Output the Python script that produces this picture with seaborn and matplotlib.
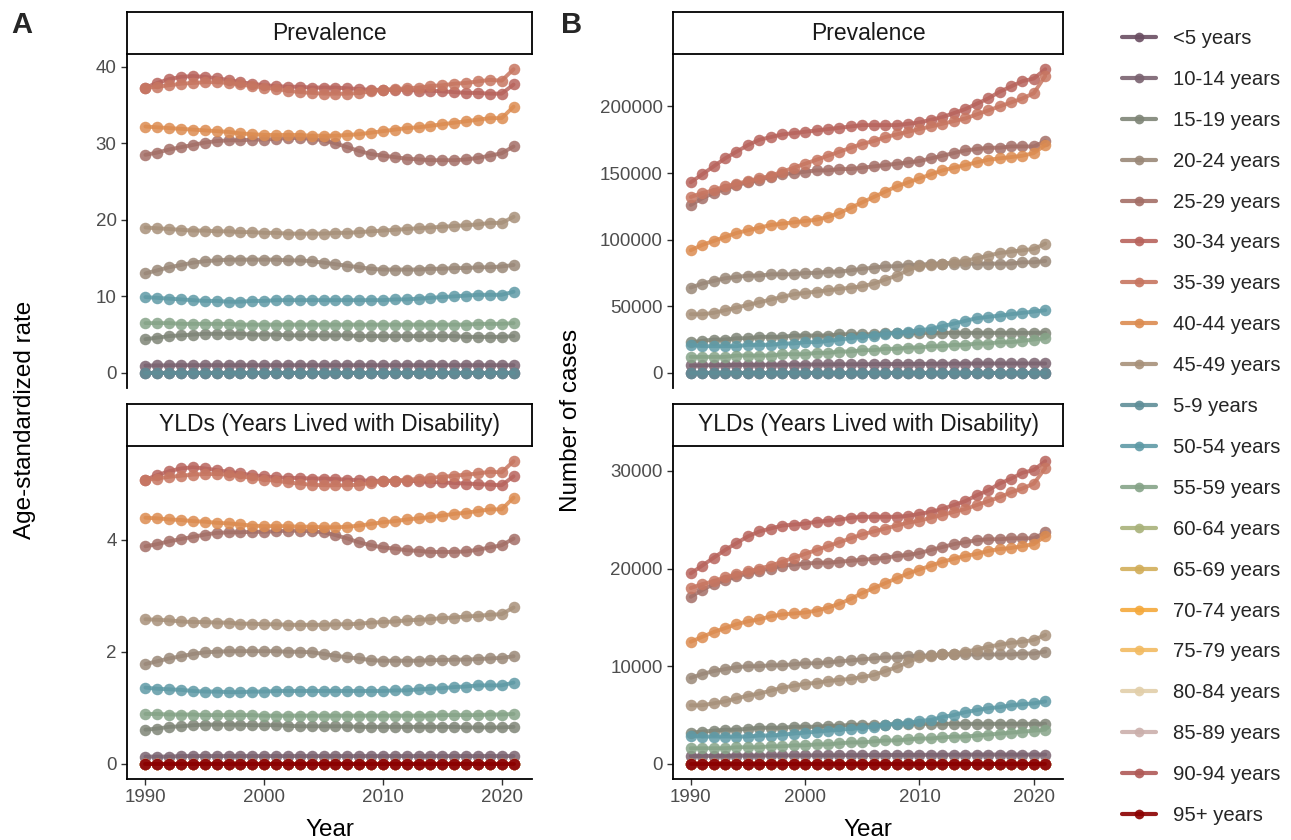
import numpy as np
import pandas as pd
import matplotlib
matplotlib.use('Agg')
import matplotlib.pyplot as plt
from matplotlib.lines import Line2D
import seaborn as sns

years = list(range(1990, 2022))

age_groups = ['<5 years', '10-14 years', '15-19 years', '20-24 years', '25-29 years',
              '30-34 years', '35-39 years', '40-44 years', '45-49 years', '5-9 years',
              '50-54 years', '55-59 years', '60-64 years', '65-69 years', '70-74 years',
              '75-79 years', '80-84 years', '85-89 years', '90-94 years', '95+ years']
age_colors = ['#6b4f63', '#7a6370', '#7f8577', '#9a8878', '#a46f67',
              '#b8645d', '#c77661', '#dc8c51', '#a8917a', '#5f8e98',
              '#5f9aa6', '#86a488', '#a9b27a', '#d2ae5a', '#f4a93c',
              '#f2bb62', '#e2cfaa', '#cbb0ac', '#b05a57', '#8b0000']

# ---- A / Prevalence (age-standardized rate) ----
prev_rate_10_14 = [0.95, 0.97, 0.98, 1.0, 1.0, 1.0, 1.0, 1.0, 1.0, 1.0, 1.0, 1.0, 1.0, 1.0, 1.0, 1.0,
                   1.0, 1.0, 1.0, 1.0, 1.0, 1.0, 1.0, 1.0, 1.0, 1.0, 1.0, 1.0, 1.0, 1.0, 1.0, 1.0]
prev_rate_15_19 = [4.4, 4.6, 4.8, 4.9, 5.0, 5.1, 5.1, 5.1, 5.1, 5.0, 5.0, 5.0, 4.9, 4.9, 4.9, 4.9,
                   4.9, 4.9, 4.8, 4.8, 4.8, 4.8, 4.8, 4.8, 4.8, 4.8, 4.8, 4.7, 4.7, 4.7, 4.7, 4.8]
prev_rate_20_24 = [13.0, 13.4, 13.8, 14.1, 14.4, 14.6, 14.7, 14.8, 14.8, 14.8, 14.8, 14.8, 14.7, 14.7, 14.6, 14.4,
                   14.2, 14.0, 13.8, 13.6, 13.5, 13.5, 13.5, 13.5, 13.6, 13.6, 13.7, 13.7, 13.8, 13.8, 13.9, 14.1]
prev_rate_25_29 = [28.5, 28.8, 29.2, 29.5, 29.8, 30.1, 30.3, 30.4, 30.4, 30.5, 30.5, 30.6, 30.7, 30.7, 30.6, 30.4,
                   30.0, 29.5, 29.0, 28.6, 28.4, 28.2, 28.0, 27.9, 27.8, 27.8, 27.8, 27.9, 28.1, 28.4, 28.7, 29.6]
prev_rate_30_34 = [37.3, 37.9, 38.4, 38.7, 38.8, 38.7, 38.5, 38.3, 38.0, 37.8, 37.6, 37.5, 37.4, 37.4, 37.3, 37.3,
                   37.3, 37.2, 37.1, 37.0, 37.0, 37.0, 37.0, 36.9, 36.9, 36.8, 36.7, 36.6, 36.6, 36.5, 36.5, 37.7]
prev_rate_35_39 = [37.3, 37.4, 37.6, 37.8, 37.9, 38.0, 38.0, 37.9, 37.7, 37.5, 37.3, 37.1, 36.9, 36.7, 36.6, 36.5,
                   36.5, 36.5, 36.6, 36.8, 37.0, 37.1, 37.2, 37.3, 37.5, 37.6, 37.8, 37.9, 38.1, 38.3, 38.2, 39.7]
prev_rate_40_44 = [32.2, 32.1, 32.0, 31.9, 31.8, 31.7, 31.6, 31.5, 31.3, 31.2, 31.1, 31.1, 31.1, 31.1, 31.0, 31.0,
                   31.0, 31.1, 31.2, 31.4, 31.6, 31.8, 32.0, 32.1, 32.3, 32.5, 32.7, 32.9, 33.1, 33.3, 33.3, 34.8]
prev_rate_45_49 = [19.0, 18.9, 18.8, 18.7, 18.6, 18.6, 18.5, 18.5, 18.4, 18.4, 18.3, 18.3, 18.2, 18.2, 18.2, 18.2,
                   18.3, 18.3, 18.4, 18.5, 18.6, 18.7, 18.8, 18.9, 19.0, 19.1, 19.2, 19.3, 19.4, 19.6, 19.6, 20.4]
prev_rate_50_54 = [9.9, 9.8, 9.7, 9.6, 9.5, 9.4, 9.4, 9.3, 9.3, 9.4, 9.4, 9.5, 9.5, 9.5, 9.5, 9.5,
                   9.5, 9.5, 9.5, 9.5, 9.5, 9.6, 9.6, 9.7, 9.8, 9.9, 10.0, 10.1, 10.2, 10.2, 10.2, 10.6]
prev_rate_55_59 = [6.5, 6.5, 6.5, 6.4, 6.4, 6.4, 6.4, 6.4, 6.3, 6.3, 6.3, 6.3, 6.3, 6.3, 6.3, 6.3,
                   6.3, 6.3, 6.3, 6.3, 6.3, 6.3, 6.3, 6.3, 6.3, 6.3, 6.3, 6.3, 6.4, 6.4, 6.4, 6.5]
prev_rate_low = [0.0] * 32  # <5 and 5-9 years

# ---- A / YLDs (age-standardized rate) ----
yld_rate_10_14 = [0.13, 0.13, 0.13, 0.14, 0.14, 0.14, 0.14, 0.14, 0.14, 0.14, 0.14, 0.14, 0.14, 0.14, 0.14, 0.14,
                  0.14, 0.14, 0.14, 0.14, 0.14, 0.14, 0.14, 0.14, 0.14, 0.14, 0.14, 0.14, 0.14, 0.14, 0.14, 0.14]
yld_rate_15_19 = [0.61, 0.63, 0.66, 0.67, 0.69, 0.70, 0.70, 0.70, 0.70, 0.69, 0.69, 0.69, 0.68, 0.67, 0.67, 0.67,
                  0.67, 0.67, 0.66, 0.66, 0.66, 0.66, 0.66, 0.66, 0.66, 0.66, 0.66, 0.65, 0.65, 0.65, 0.65, 0.66]
yld_rate_20_24 = [1.78, 1.83, 1.88, 1.92, 1.96, 1.99, 2.00, 2.01, 2.01, 2.01, 2.01, 2.01, 2.00, 2.00, 1.99, 1.96,
                  1.93, 1.90, 1.88, 1.85, 1.84, 1.84, 1.84, 1.84, 1.85, 1.85, 1.86, 1.86, 1.87, 1.88, 1.89, 1.92]
yld_rate_25_29 = [3.88, 3.92, 3.97, 4.01, 4.05, 4.09, 4.12, 4.13, 4.13, 4.14, 4.14, 4.15, 4.16, 4.16, 4.15, 4.13,
                  4.08, 4.02, 3.95, 3.90, 3.86, 3.84, 3.81, 3.80, 3.78, 3.78, 3.78, 3.79, 3.82, 3.86, 3.90, 4.02]
yld_rate_30_34 = [5.07, 5.15, 5.22, 5.27, 5.29, 5.27, 5.24, 5.21, 5.18, 5.15, 5.13, 5.11, 5.10, 5.10, 5.09, 5.09,
                  5.08, 5.07, 5.06, 5.05, 5.05, 5.05, 5.05, 5.04, 5.03, 5.02, 5.01, 5.00, 4.99, 4.98, 4.97, 5.13]
yld_rate_35_39 = [5.07, 5.09, 5.12, 5.14, 5.16, 5.17, 5.17, 5.16, 5.13, 5.10, 5.07, 5.05, 5.02, 5.00, 4.98, 4.97,
                  4.97, 4.97, 4.98, 5.01, 5.04, 5.05, 5.07, 5.08, 5.10, 5.12, 5.14, 5.16, 5.18, 5.21, 5.20, 5.40]
yld_rate_40_44 = [4.39, 4.38, 4.36, 4.35, 4.33, 4.32, 4.30, 4.29, 4.27, 4.25, 4.24, 4.24, 4.24, 4.23, 4.23, 4.22,
                  4.22, 4.23, 4.25, 4.28, 4.31, 4.33, 4.36, 4.38, 4.40, 4.43, 4.46, 4.48, 4.51, 4.54, 4.54, 4.75]
yld_rate_45_49 = [2.58, 2.57, 2.56, 2.54, 2.53, 2.53, 2.52, 2.52, 2.50, 2.50, 2.49, 2.49, 2.48, 2.48, 2.48, 2.48,
                  2.49, 2.49, 2.50, 2.52, 2.53, 2.54, 2.56, 2.57, 2.58, 2.60, 2.61, 2.63, 2.64, 2.66, 2.67, 2.79]
yld_rate_50_54 = [1.36, 1.34, 1.33, 1.32, 1.30, 1.29, 1.29, 1.28, 1.28, 1.29, 1.29, 1.30, 1.30, 1.30, 1.30, 1.30,
                  1.30, 1.30, 1.30, 1.30, 1.30, 1.31, 1.31, 1.33, 1.34, 1.35, 1.37, 1.38, 1.40, 1.40, 1.40, 1.45]
yld_rate_55_59 = [0.89, 0.89, 0.88, 0.88, 0.88, 0.87, 0.87, 0.87, 0.87, 0.87, 0.86, 0.86, 0.86, 0.86, 0.86, 0.86,
                  0.86, 0.86, 0.86, 0.86, 0.86, 0.86, 0.86, 0.86, 0.86, 0.87, 0.87, 0.87, 0.87, 0.88, 0.88, 0.89]
yld_rate_low = [0.0] * 32  # <5, 5-9 and 60+ years

# ---- B / Prevalence (number of cases, thousands) ----
prev_num_10_14 = [5.5, 5.6, 5.7, 5.8, 5.9, 6.0, 6.0, 6.1, 6.1, 6.2, 6.2, 6.3, 6.3, 6.4, 6.4, 6.5,
                  6.5, 6.6, 6.6, 6.7, 6.7, 6.8, 6.8, 6.9, 6.9, 7.0, 7.0, 7.0, 7.0, 7.0, 7.0, 7.0]
prev_num_15_19 = [23, 24, 25, 25, 26, 26, 27, 27, 27, 28, 28, 28, 28, 29, 29, 29,
                  29, 30, 30, 30, 30, 30, 30, 30, 30, 30, 30, 30, 30, 30, 30, 30]
prev_num_20_24 = [64, 67, 69, 71, 72, 73, 73, 74, 74, 74, 75, 75, 76, 76, 77, 78,
                  79, 80, 80, 81, 81, 82, 82, 82, 82, 82, 82, 82, 82, 83, 83, 84]
prev_num_25_29 = [126, 131, 135, 138, 141, 143, 145, 147, 149, 150, 151, 152, 152, 153, 153, 154,
                  155, 156, 157, 158, 159, 161, 163, 165, 167, 168, 169, 169, 170, 170, 170, 174]
prev_num_30_34 = [143, 149, 155, 161, 166, 171, 175, 177, 179, 180, 181, 182, 183, 184, 185, 186,
                  186, 186, 186, 187, 188, 190, 192, 195, 198, 202, 206, 211, 215, 219, 221, 228]
prev_num_35_39 = [132, 135, 137, 140, 142, 144, 146, 148, 151, 154, 157, 160, 163, 166, 169, 172,
                  174, 177, 179, 181, 183, 185, 187, 189, 191, 194, 197, 200, 203, 206, 210, 223]
prev_num_40_44 = [92, 96, 99, 102, 105, 107, 109, 111, 112, 113, 114, 115, 117, 120, 124, 128,
                  132, 136, 140, 143, 146, 149, 152, 154, 156, 158, 160, 161, 162, 163, 165, 171]
prev_num_45_49 = [44, 44, 45, 47, 49, 51, 53, 55, 57, 59, 60, 61, 62, 63, 64, 65,
                  67, 70, 73, 77, 80, 81, 82, 83, 84, 86, 88, 90, 91, 92, 93, 97]
prev_num_50_54 = [21, 20, 20, 20, 20, 21, 21, 21, 22, 22, 23, 23, 24, 25, 26, 27,
                  28, 29, 30, 31, 32, 33, 35, 37, 39, 41, 42, 43, 44, 45, 46, 47]
prev_num_55_59 = [12, 12, 12, 12, 13, 13, 13, 13, 14, 14, 14, 15, 15, 16, 16, 17,
                  17, 18, 18, 19, 19, 20, 20, 21, 21, 22, 22, 23, 23, 24, 25, 26]
prev_num_low = [0.0] * 32

# ---- B / YLDs (number, thousands) ----
yld_num_10_14 = [0.80, 0.81, 0.82, 0.83, 0.84, 0.85, 0.85, 0.86, 0.86, 0.87, 0.87, 0.88, 0.88, 0.89, 0.89, 0.90,
                 0.90, 0.91, 0.91, 0.92, 0.92, 0.93, 0.93, 0.94, 0.94, 0.95, 0.95, 0.95, 0.95, 0.95, 0.95, 0.95]
yld_num_15_19 = [3.2, 3.3, 3.4, 3.5, 3.5, 3.6, 3.7, 3.7, 3.7, 3.8, 3.8, 3.8, 3.9, 3.9, 4.0, 4.0,
                 4.0, 4.0, 4.1, 4.1, 4.1, 4.1, 4.1, 4.1, 4.1, 4.1, 4.1, 4.1, 4.1, 4.1, 4.1, 4.1]
yld_num_20_24 = [8.8, 9.2, 9.5, 9.7, 9.9, 10.0, 10.0, 10.1, 10.1, 10.2, 10.3, 10.3, 10.4, 10.5, 10.6, 10.7,
                 10.8, 10.9, 10.9, 11.0, 11.1, 11.1, 11.2, 11.2, 11.2, 11.2, 11.2, 11.2, 11.2, 11.3, 11.3, 11.5]
yld_num_25_29 = [17.1, 17.8, 18.4, 18.8, 19.2, 19.5, 19.8, 20.0, 20.3, 20.4, 20.5, 20.6, 20.6, 20.7, 20.8, 20.9,
                 21.0, 21.1, 21.3, 21.4, 21.6, 21.9, 22.2, 22.5, 22.7, 22.9, 23.0, 23.0, 23.1, 23.1, 23.1, 23.7]
yld_num_30_34 = [19.5, 20.3, 21.1, 21.9, 22.6, 23.3, 23.8, 24.1, 24.4, 24.5, 24.6, 24.8, 24.9, 25.0, 25.2, 25.3,
                 25.3, 25.3, 25.3, 25.4, 25.6, 25.8, 26.1, 26.5, 26.9, 27.5, 28.0, 28.7, 29.2, 29.8, 30.1, 31.0]
yld_num_35_39 = [18.0, 18.4, 18.7, 19.1, 19.4, 19.7, 20.0, 20.3, 20.7, 21.1, 21.5, 21.9, 22.3, 22.7, 23.1, 23.5,
                 23.8, 24.1, 24.4, 24.7, 24.9, 25.2, 25.5, 25.8, 26.1, 26.5, 26.9, 27.3, 27.8, 28.2, 28.7, 30.3]
yld_num_40_44 = [12.5, 13.0, 13.5, 13.9, 14.3, 14.6, 14.8, 15.1, 15.3, 15.4, 15.5, 15.7, 16.0, 16.4, 16.9, 17.5,
                 18.0, 18.5, 19.0, 19.5, 19.9, 20.3, 20.7, 21.0, 21.3, 21.5, 21.8, 22.0, 22.1, 22.3, 22.5, 23.3]
yld_num_45_49 = [6.0, 6.0, 6.2, 6.4, 6.7, 7.0, 7.2, 7.5, 7.8, 8.0, 8.2, 8.3, 8.5, 8.6, 8.7, 8.9,
                 9.1, 9.5, 9.9, 10.4, 10.9, 11.0, 11.2, 11.3, 11.5, 11.7, 12.0, 12.2, 12.4, 12.5, 12.7, 13.2]
yld_num_50_54 = [2.9, 2.8, 2.8, 2.8, 2.8, 2.8, 2.9, 2.9, 3.0, 3.1, 3.2, 3.3, 3.4, 3.5, 3.6, 3.7,
                 3.8, 4.0, 4.1, 4.2, 4.4, 4.5, 4.8, 5.0, 5.3, 5.5, 5.7, 5.8, 6.0, 6.1, 6.2, 6.4]
yld_num_55_59 = [1.6, 1.6, 1.6, 1.6, 1.7, 1.7, 1.7, 1.8, 1.8, 1.9, 1.9, 2.0, 2.0, 2.1, 2.2, 2.2,
                 2.3, 2.4, 2.4, 2.5, 2.6, 2.6, 2.7, 2.8, 2.8, 2.9, 3.0, 3.1, 3.2, 3.3, 3.4, 3.5]
yld_num_low = [0.0] * 32

older = ['60-64 years', '65-69 years', '70-74 years', '75-79 years', '80-84 years',
         '85-89 years', '90-94 years', '95+ years']


def panel(s10, s15, s20, s25, s30, s35, s40, s45, s50, s55, low, with_older, scale=1.0):
    series = {'<5 years': low, '10-14 years': s10, '15-19 years': s15, '20-24 years': s20,
              '25-29 years': s25, '30-34 years': s30, '35-39 years': s35, '40-44 years': s40,
              '45-49 years': s45, '5-9 years': low, '50-54 years': s50, '55-59 years': s55}
    if with_older:
        for g in older:
            series[g] = low
    rows = []
    for g, vals in series.items():
        for y, v in zip(years, vals):
            rows.append({'year': y, 'age': g, 'value': v * scale})
    return pd.DataFrame(rows)


panels = {
    ('rate', 'prev'): panel(prev_rate_10_14, prev_rate_15_19, prev_rate_20_24, prev_rate_25_29, prev_rate_30_34,
                            prev_rate_35_39, prev_rate_40_44, prev_rate_45_49, prev_rate_50_54, prev_rate_55_59,
                            prev_rate_low, False),
    ('rate', 'yld'): panel(yld_rate_10_14, yld_rate_15_19, yld_rate_20_24, yld_rate_25_29, yld_rate_30_34,
                           yld_rate_35_39, yld_rate_40_44, yld_rate_45_49, yld_rate_50_54, yld_rate_55_59,
                           yld_rate_low, True),
    ('num', 'prev'): panel(prev_num_10_14, prev_num_15_19, prev_num_20_24, prev_num_25_29, prev_num_30_34,
                           prev_num_35_39, prev_num_40_44, prev_num_45_49, prev_num_50_54, prev_num_55_59,
                           prev_num_low, False, 1000),
    ('num', 'yld'): panel(yld_num_10_14, yld_num_15_19, yld_num_20_24, yld_num_25_29, yld_num_30_34,
                          yld_num_35_39, yld_num_40_44, yld_num_45_49, yld_num_50_54, yld_num_55_59,
                          yld_num_low, True, 1000),
}

sns.set_theme(style='white')
plt.rcParams['font.family'] = ['Liberation Sans', 'DejaVu Sans']

fig = plt.figure(figsize=(12.91, 8.4), dpi=100)
W, H = 1291, 840

col_x = {'rate': (127, 405), 'num': (673, 390)}
row_y = {'prev': (54, 388), 'yld': (446, 779)}
strip_h = 42
strip_titles = {'prev': 'Prevalence', 'yld': 'YLDs (Years Lived with Disability)'}
yticks = {('rate', 'prev'): [0, 10, 20, 30, 40], ('rate', 'yld'): [0, 2, 4],
          ('num', 'prev'): [0, 50000, 100000, 150000, 200000], ('num', 'yld'): [0, 10000, 20000, 30000]}

for (metric, measure), df in panels.items():
    x0, w = col_x[metric]
    top, bot = row_y[measure]
    ax = fig.add_axes([x0 / W, (H - bot) / H, w / W, (bot - top) / H])
    sns.lineplot(data=df, x='year', y='value', hue='age', hue_order=age_groups, palette=age_colors,
                 marker='o', markersize=8.3, markeredgewidth=0, linewidth=2.8, alpha=0.85,
                 legend=False, ax=ax, errorbar=None)
    ax.set_xlim(1990 - 1.55, 2021 + 1.55)
    ax.set_yticks(yticks[(metric, measure)])
    ax.set_xticks([1990, 2000, 2010, 2020])
    ax.set_xlabel('')
    ax.set_ylabel('')
    for sp in ['top', 'right']:
        ax.spines[sp].set_visible(False)
    ax.spines['left'].set_color('black')
    ax.spines['left'].set_linewidth(1.3)
    ax.spines['bottom'].set_color('black')
    ax.spines['bottom'].set_linewidth(1.3)
    ax.tick_params(axis='both', labelsize=13.5, labelcolor='#4d4d4d', color='#333333',
                   length=4, width=1.0, direction='out', left=True, bottom=True)
    if measure == 'prev':
        ax.spines['bottom'].set_visible(False)
        ax.tick_params(axis='x', bottom=False, labelbottom=False)
    else:
        ax.set_xlabel('Year', fontsize=17.5, color='black', labelpad=9)

    sax = fig.add_axes([x0 / W, (H - top) / H, w / W, strip_h / H])
    sax.set_xticks([])
    sax.set_yticks([])
    for sp in sax.spines.values():
        sp.set_visible(True)
        sp.set_color('black')
        sp.set_linewidth(1.3)
    sax.set_facecolor('white')
    sax.text(0.5, 0.5, strip_titles[measure], ha='center', va='center', fontsize=16.5,
             color='#1a1a1a', transform=sax.transAxes)

fig.text(25 / W, 1 - 420 / H, 'Age-standardized rate', rotation=90, ha='center', va='center',
         fontsize=17.5, color='black')
fig.text(571 / W, 1 - 420 / H, 'Number of cases', rotation=90, ha='center', va='center',
         fontsize=17.5, color='black')
fig.text(22 / W, 1 - 25 / H, 'A', ha='center', va='center', fontsize=21, fontweight='bold')
fig.text(572 / W, 1 - 25 / H, 'B', ha='center', va='center', fontsize=21, fontweight='bold')

handles = [Line2D([0], [0], color=c, lw=3, marker='o', markersize=7, markeredgewidth=0, alpha=0.9)
           for c in age_colors]
fig.legend(handles, age_groups, loc='upper left', bbox_to_anchor=(1122 / W, 1 - 29 / H),
           frameon=False, fontsize=14.6, labelspacing=1.08, handlelength=1.7, handletextpad=0.8,
           borderpad=0, borderaxespad=0)

fig.savefig('out.png', dpi=100, facecolor='white')
